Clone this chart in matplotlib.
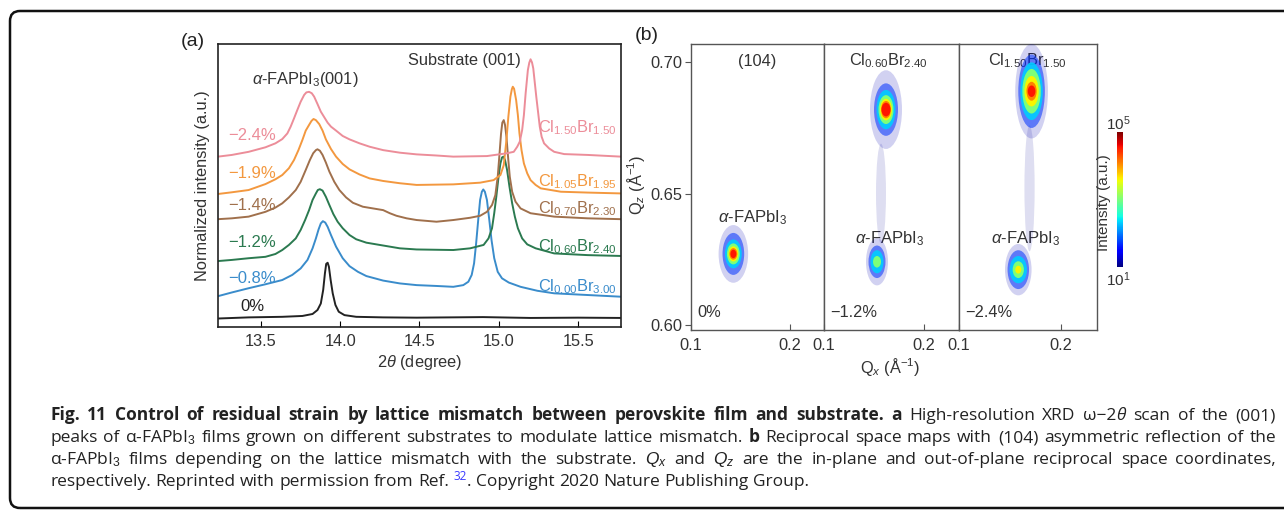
import matplotlib
matplotlib.use("Agg")
import matplotlib.pyplot as plt
from matplotlib.patches import Ellipse, FancyBboxPatch
from matplotlib.colors import LogNorm
from matplotlib.cm import ScalarMappable
from matplotlib.ticker import NullLocator
from matplotlib.transforms import IdentityTransform

plt.rcParams['font.family'] = ['Liberation Sans', 'DejaVu Sans']
plt.rcParams['mathtext.fontset'] = 'custom'
plt.rcParams['mathtext.rm'] = 'Liberation Sans'
plt.rcParams['mathtext.it'] = 'Liberation Sans:italic'
plt.rcParams['mathtext.bf'] = 'Liberation Sans:bold'

W, H = 1284, 511
TXT = '#333333'
FS = 11.8

# ---- panel (a): XRD scans, 2theta vs normalized intensity ----
black_x = [13.23, 13.423, 13.635, 13.762, 13.826, 13.857, 13.878, 13.893, 13.904, 13.912, 13.921,
           13.929, 13.94, 13.953, 13.97, 13.991, 14.027, 14.101, 14.271, 14.482, 14.9, 15.2,
           15.5, 15.77]
black_y = [0.30, 0.34, 0.36, 0.39, 0.46, 0.60, 0.83, 1.31, 1.90, 2.23, 2.27,
           2.13, 1.66, 1.19, 0.78, 0.54, 0.42, 0.36, 0.34, 0.33, 0.35, 0.32,
           0.33, 0.32]

blue_x = [13.23, 13.317, 13.423, 13.529, 13.635, 13.698, 13.751, 13.794, 13.826, 13.847, 13.864,
          13.878, 13.891, 13.906, 13.921, 13.942, 13.974, 14.016, 14.059, 14.112, 14.165, 14.271,
          14.376, 14.482, 14.607, 14.713, 14.776, 14.808, 14.829, 14.844, 14.857, 14.87, 14.882,
          14.893, 14.902, 14.912, 14.925, 14.94, 14.954, 14.971, 14.993, 15.02, 15.063, 15.137,
          15.243, 15.349, 15.56, 15.77]
blue_y = [1.09, 1.22, 1.37, 1.51, 1.66, 1.84, 2.07, 2.37, 2.78, 3.13, 3.45,
          3.66, 3.74, 3.69, 3.54, 3.25, 2.84, 2.43, 2.15, 1.95, 1.80, 1.64,
          1.54, 1.48, 1.45, 1.42, 1.48, 1.60, 1.84, 2.25, 2.96, 3.78, 4.49,
          4.78, 4.86, 4.78, 4.49, 3.78, 3.07, 2.43, 1.95, 1.72, 1.57, 1.42,
          1.28, 1.19, 1.13, 1.07]

green_x = [13.23, 13.317, 13.423, 13.529, 13.592, 13.635, 13.677, 13.72, 13.751, 13.779, 13.804,
           13.826, 13.847, 13.859, 13.872, 13.889, 13.91, 13.932, 13.957, 13.984, 14.016, 14.059,
           14.101, 14.165, 14.249, 14.376, 14.482, 14.713, 14.819, 14.904, 14.935, 14.957, 14.971,
           14.984, 14.997, 15.01, 15.02, 15.029, 15.039, 15.052, 15.067, 15.084, 15.101, 15.12,
           15.147, 15.179, 15.232, 15.349, 15.56, 15.77]
green_y = [2.33, 2.37, 2.43, 2.48, 2.58, 2.72, 2.90, 3.13, 3.43, 3.78, 4.13,
           4.49, 4.72, 4.84, 4.87, 4.82, 4.60, 4.31, 3.99, 3.72, 3.49, 3.25,
           3.10, 2.98, 2.90, 2.78, 2.74, 2.72, 2.78, 2.90, 3.13, 3.49, 4.02,
           4.60, 5.25, 5.78, 5.99, 6.02, 5.90, 5.55, 4.96, 4.37, 3.90, 3.49,
           3.13, 2.92, 2.78, 2.60, 2.54, 2.51]

brown_x = [13.23, 13.317, 13.423, 13.529, 13.592, 13.635, 13.677, 13.72, 13.751, 13.783, 13.809,
           13.83, 13.847, 13.857, 13.872, 13.889, 13.91, 13.932, 13.963, 13.995, 14.037, 14.08,
           14.143, 14.207, 14.271, 14.313, 14.355, 14.419, 14.482, 14.607, 14.713, 14.819, 14.882,
           14.925, 14.957, 14.978, 14.993, 15.003, 15.014, 15.022, 15.031, 15.039, 15.048, 15.058,
           15.069, 15.084, 15.105, 15.137, 15.20, 15.349, 15.56, 15.77]
brown_y = [3.81, 3.84, 3.90, 4.07, 4.22, 4.37, 4.58, 4.84, 5.13, 5.55, 5.90,
           6.14, 6.25, 6.28, 6.23, 6.08, 5.81, 5.49, 5.13, 4.84, 4.58, 4.39,
           4.25, 4.19, 4.13, 4.02, 3.93, 3.84, 3.78, 3.72, 3.78, 3.86, 3.93,
           4.07, 4.31, 4.66, 5.31, 6.02, 6.84, 7.22, 7.31, 7.14, 6.72, 6.02,
           5.31, 4.78, 4.43, 4.19, 4.02, 3.90, 3.84, 3.81]

orange_x = [13.23, 13.317, 13.423, 13.529, 13.592, 13.635, 13.677, 13.709, 13.737, 13.762, 13.783,
            13.804, 13.819, 13.832, 13.847, 13.868, 13.889, 13.91, 13.942, 13.974, 14.016, 14.059,
            14.122, 14.186, 14.271, 14.376, 14.482, 14.713, 14.882, 14.967, 15.01, 15.031, 15.048,
            15.060, 15.073, 15.082, 15.088, 15.096, 15.109, 15.12, 15.130, 15.143, 15.158, 15.179,
            15.20, 15.232, 15.264, 15.391, 15.56, 15.77]
orange_y = [4.70, 4.76, 4.84, 5.05, 5.22, 5.37, 5.61, 5.90, 6.25, 6.61, 6.94,
            7.14, 7.28, 7.35, 7.31, 7.17, 6.94, 6.63, 6.29, 6.02, 5.76, 5.57,
            5.39, 5.25, 5.16, 5.08, 5.02, 5.04, 5.10, 5.19, 5.37, 5.72, 6.61,
            7.43, 8.14, 8.40, 8.49, 8.42, 8.02, 7.49, 6.84, 6.25, 5.78, 5.43,
            5.19, 5.02, 4.90, 4.78, 4.75, 4.72]

pink_x = [13.23, 13.317, 13.423, 13.529, 13.592, 13.635, 13.667, 13.688, 13.709, 13.730, 13.751,
          13.773, 13.787, 13.804, 13.821, 13.836, 13.857, 13.878, 13.900, 13.921, 13.942, 13.974,
          14.016, 14.059, 14.122, 14.186, 14.271, 14.376, 14.482, 14.607, 14.713, 14.925, 15.052,
          15.094, 15.116, 15.132, 15.147, 15.158, 15.169, 15.183, 15.192, 15.20, 15.209, 15.217,
          15.236, 15.247, 15.258, 15.27, 15.285, 15.317, 15.349, 15.412, 15.56, 15.77]
pink_y = [6.02, 6.08, 6.19, 6.35, 6.49, 6.64, 6.84, 7.08, 7.37, 7.67, 7.96,
          8.20, 8.29, 8.31, 8.26, 8.14, 7.88, 7.61, 7.41, 7.22, 7.08, 6.94,
          6.75, 6.63, 6.49, 6.37, 6.25, 6.16, 6.10, 6.06, 6.02, 6.04, 6.14,
          6.19, 6.37, 6.55, 6.96, 7.49, 8.26, 9.08, 9.34, 9.46, 9.35, 9.14,
          8.14, 7.61, 7.08, 6.72, 6.49, 6.31, 6.19, 6.11, 6.08, 6.02]

strain_labels = ['0%', '−0.8%', '−1.2%', '−1.4%', '−1.9%', '−2.4%']
strain_y = [0.71, 1.70, 2.97, 4.31, 5.41, 6.78]
comp_labels = [r'Cl$_{0.00}$Br$_{3.00}$', r'Cl$_{0.60}$Br$_{2.40}$', r'Cl$_{0.70}$Br$_{2.30}$',
               r'Cl$_{1.05}$Br$_{1.95}$', r'Cl$_{1.50}$Br$_{1.50}$']
comp_y = [1.41, 2.83, 4.17, 5.12, 7.03]
curve_colors = ['#222222', '#3a8ccb', '#2b7a50', '#a0704c', '#f3983f', '#ec8d99']

# ---- panel (b): reciprocal space maps, spots as intensity shells ----
shell_vals = [15, 50, 200, 1000, 4000, 12000, 35000]
shell_alpha = [0.18, 0.55, 0.9, 1, 1, 1, 1]
panel_labels = ['(104)', r'Cl$_{0.60}$Br$_{2.40}$', r'Cl$_{1.50}$Br$_{1.50}$']
panel_strain = ['0%', '−1.2%', '−2.4%']
film_qx = [0.163, 0.166, 0.165]
top_qx = [0.167, 0.164, 0.167]
spots = [
    # panel, qx, qz, rx per shell, rz per shell
    (0, 0.143, 0.627, [0.015, 0.011, 0.0085, 0.0065, 0.005, 0.004, 0.003],
     [0.0110, 0.0080, 0.0055, 0.0040, 0.0029, 0.0022, 0.0016]),
    (1, 0.162, 0.682, [0.016, 0.012, 0.0095, 0.0075, 0.006, 0.005, 0.0045],
     [0.0150, 0.0100, 0.0075, 0.0055, 0.0041, 0.0033, 0.0026]),
    (1, 0.153, 0.624, [0.011, 0.0085, 0.0065, 0.004, 0, 0, 0],
     [0.0090, 0.0062, 0.0044, 0.0022, 0, 0, 0]),
    (2, 0.171, 0.689, [0.016, 0.013, 0.011, 0.009, 0.007, 0.005, 0.0037],
     [0.0180, 0.0140, 0.0110, 0.0085, 0.0058, 0.0036, 0.0022]),
    (2, 0.158, 0.621, [0.013, 0.0105, 0.0085, 0.0055, 0.003, 0, 0],
     [0.0098, 0.0074, 0.0052, 0.0032, 0.0015, 0, 0]),
]
# faint diffuse streaks joining substrate and film spots
streaks = [(1, 0.157, 0.650, 0.005, 0.019), (2, 0.169, 0.652, 0.005, 0.024)]

fig = plt.figure(figsize=(W / 100, H / 100), dpi=100)


def fx(px):
    return px / W


def fy(py):
    return 1 - py / H


# ---------------- panel (a) ----------------
ax = fig.add_axes([fx(218), fy(327), fx(621 - 218), (327 - 44) / H])
for xs, ys, c in zip([black_x, blue_x, green_x, brown_x, orange_x, pink_x],
                     [black_y, blue_y, green_y, brown_y, orange_y, pink_y], curve_colors):
    ax.plot(xs, ys, color=c, lw=1.4, solid_joinstyle='round')
ax.set_xlim(13.23, 15.77)
ax.set_ylim(0, 10)
ax.set_xticks([13.5, 14.0, 14.5, 15.0, 15.5])
ax.set_xticklabels(['13.5', '14.0', '14.5', '15.0', '15.5'])
ax.set_yticks([])
ax.tick_params(axis='x', direction='in', length=4, labelsize=FS, labelcolor=TXT, pad=5)
for s in ax.spines.values():
    s.set_color('#222222')
    s.set_linewidth(1.2)
ax.set_xlabel(r'2$\theta$ (degree)', fontsize=FS, color=TXT, labelpad=3)
ax.set_ylabel('Normalized intensity (a.u.)', fontsize=FS, color=TXT, labelpad=6)
for lab, yv, c in zip(strain_labels, strain_y, curve_colors):
    ax.text(13.445, yv, lab, color=c, fontsize=12, ha='center', va='center')
for lab, yv, c in zip(comp_labels, comp_y, curve_colors[1:]):
    ax.text(15.745, yv, lab, color=c, fontsize=11.8, ha='right', va='center')
ax.text(14.78, 9.43, 'Substrate (001)', color=TXT, fontsize=FS, ha='center', va='center')
ax.text(13.78, 8.73, r'$\alpha$-FAPbI$_3$(001)', color=TXT, fontsize=FS, ha='center', va='center')
fig.text(fx(193), fy(42), '(a)', fontsize=14, ha='center', va='center', color='#222222')

# ---------------- panel (b) ----------------
cmap = plt.get_cmap('jet')
norm = LogNorm(10, 1e5)
edges = [(691, 824), (824, 959), (959, 1097)]
axes_b = []
for i, (l, r) in enumerate(edges):
    a = fig.add_axes([fx(l), fy(330), fx(r - l), (330 - 44) / H])
    a.set_xlim(0.1, 0.235)
    a.set_ylim(0.598, 0.707)
    a.set_xticks([0.1, 0.2])
    a.set_xticklabels(['0.1', '0.2'])
    a.tick_params(axis='x', direction='in', length=4, labelsize=FS, labelcolor=TXT, pad=6,
                  color='#555555')
    if i == 0:
        a.set_yticks([0.60, 0.65, 0.70])
        a.set_yticklabels(['0.60', '0.65', '0.70'])
        a.tick_params(axis='y', direction='out', length=4, labelsize=FS, labelcolor=TXT,
                      color='#555555', pad=2)
    else:
        a.set_yticks([])
    for s in a.spines.values():
        s.set_color('#555555')
        s.set_linewidth(1.0)
    a.text(top_qx[i], 0.7005, panel_labels[i], fontsize=FS, color=TXT, ha='center',
           va='center', zorder=2)
    a.text(film_qx[i], 0.633 if i else 0.641, r'$\alpha$-FAPbI$_3$', fontsize=12, color=TXT,
           ha='center', va='center', zorder=2)
    a.text(0.106, 0.6045, panel_strain[i], fontsize=FS, color=TXT, ha='left', va='center',
           zorder=2)
    axes_b.append(a)

for p, qx, qz, w, h in streaks:
    axes_b[p].add_patch(Ellipse((qx, qz), 2 * w, 2 * h, color=cmap(norm(12)), alpha=0.13,
                                lw=0, zorder=3))
for p, qx, qz, rxs, rzs in spots:
    for k, (v, rx, rz) in enumerate(zip(shell_vals, rxs, rzs)):
        if rx == 0:
            continue
        axes_b[p].add_patch(Ellipse((qx, qz), 2 * rx, 2 * rz, color=cmap(norm(v)),
                                    alpha=shell_alpha[k], lw=0, zorder=4 + k))

fig.text(fx(647), fy(35), '(b)', fontsize=14, ha='center', va='center', color='#222222')
fig.text(fx(636), fy(185), r'Q$_z$ (Å$^{-1}$)', fontsize=FS, rotation=90, color=TXT,
         ha='center', va='center')
fig.text(fx(890), fy(367), r'Q$_x$ (Å$^{-1}$)', fontsize=FS, color=TXT, ha='center',
         va='center')

# colorbar
cax = fig.add_axes([fx(1117), fy(267), fx(6), 135 / H])
cb = fig.colorbar(ScalarMappable(norm=norm, cmap=cmap), cax=cax)
cb.set_ticks([])
cax.yaxis.set_minor_locator(NullLocator())
cb.outline.set_visible(False)
fig.text(fx(1118), fy(124), r'10$^5$', fontsize=11, color=TXT, ha='center', va='center')
fig.text(fx(1118), fy(280), r'10$^1$', fontsize=11, color=TXT, ha='center', va='center')
fig.text(fx(1104), fy(203), 'Intensity (a.u.)', fontsize=11, rotation=90, color=TXT,
         ha='center', va='center')

# ---------------- caption ----------------
CAP = dict(family=['Open Sans', 'DejaVu Sans'], fontsize=12.5, color='#222222')
STYLE = {
    'b': (dict(CAP, weight='bold'), 0),
    'r': (dict(CAP), 0),
    'i': (dict(CAP, style='italic'), 0),
    's': (dict(CAP, fontsize=8.5, color='#3a3aff'), 6),
}
cap_lines = [
    [("Fig. 11 Control of residual strain by lattice mismatch between perovskite film and substrate. a ", 'b'),
     ("High-resolution XRD ω−2", 'r'), ("θ", 'i'), (" scan of the (001)", 'r')],
    [("peaks of α-FAPbI$_3$ films grown on different substrates to modulate lattice mismatch. ", 'r'),
     ("b ", 'b'), ("Reciprocal space maps with (104) asymmetric reflection of the", 'r')],
    [("α-FAPbI$_3$ films depending on the lattice mismatch with the substrate. ", 'r'),
     ("$Q_x$", 'r'), (" and ", 'r'), ("$Q_z$", 'r'),
     (" are the in-plane and out-of-plane reciprocal space coordinates,", 'r')],
    [("respectively. Reprinted with permission from Ref. ", 'r'), ("32", 's'),
     (". Copyright 2020 Nature Publishing Group.", 'r')],
]
cap_base = [420, 442, 464, 486]
cap_justify = [True, True, True, False]


def to_words(segs):
    words = [[]]
    for txt, kind in segs:
        for j, part in enumerate(txt.split(' ')):
            if j > 0:
                words.append([])
            if part:
                words[-1].append((part, kind))
    return [w for w in words if w]


renderer = fig.canvas.get_renderer()
x_left, x_right = 50, 1276
for segs, base, just in zip(cap_lines, cap_base, cap_justify):
    words = to_words(segs)
    placed, widths = [], []
    for word in words:
        arts, w = [], 0.0
        for txt, kind in word:
            kw, dy = STYLE[kind]
            t = fig.text(0, H - base + dy, txt, transform=IdentityTransform(), va='baseline', **kw)
            arts.append((t, w))
            w += t.get_window_extent(renderer).width
        placed.append(arts)
        widths.append(w)
    gap = 4.5
    if just:
        gap = max(2.0, (x_right - x_left - sum(widths)) / (len(words) - 1))
    x = x_left
    for arts, w in zip(placed, widths):
        for t, off in arts:
            t.set_x(x + off)
        x += w + gap

# rounded frame around figure and caption
frame = FancyBboxPatch((10, 3), 1300, 497, boxstyle='round,pad=0,rounding_size=10',
                       transform=IdentityTransform(), fill=False, lw=1.8, ec='#111111')
fig.add_artist(frame)

fig.savefig('out.png', dpi=100)
